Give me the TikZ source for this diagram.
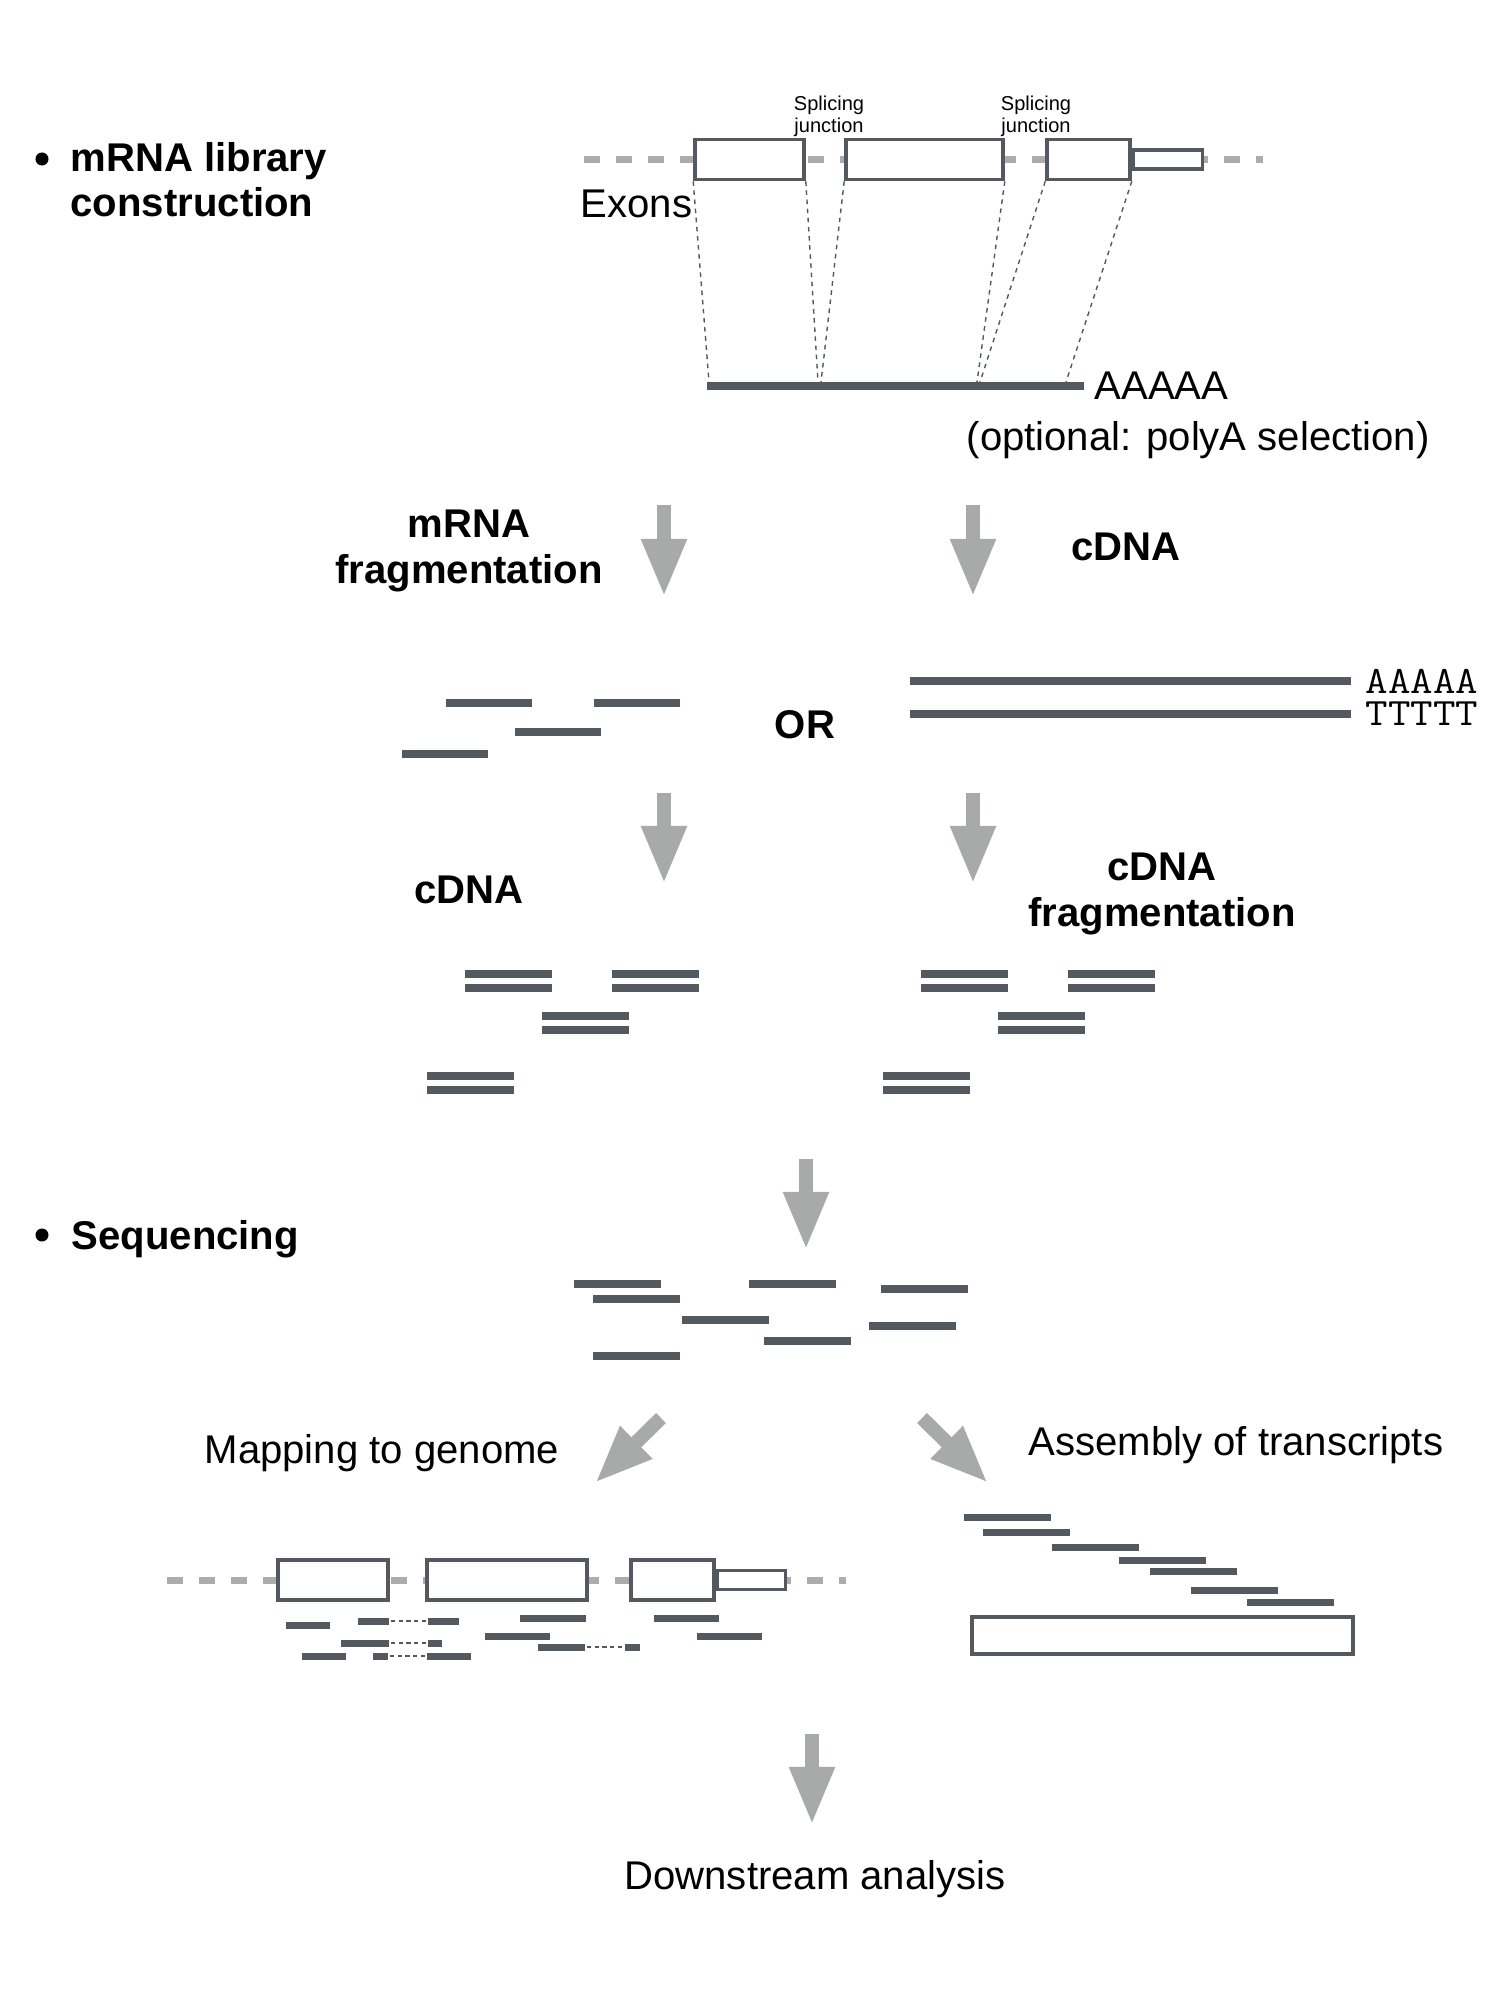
\documentclass[tikz,border=0pt]{standalone}
\usepackage{fontspec}
\setmainfont{Liberation Sans}
\usetikzlibrary{arrows.meta,positioning}

\definecolor{bargray}{RGB}{84,89,95}
\definecolor{arrowgray}{RGB}{168,170,169}
\definecolor{introngray}{RGB}{172,172,172}

\begin{document}
\begin{tikzpicture}[x=0.01cm,y=-0.01cm,
    exon/.style={rectangle,draw=bargray,line width=1pt,fill=white,inner sep=0pt,minimum height=0.40cm},
    utr/.style={exon,minimum height=0.19cm},
    intron/.style={draw=introngray,line width=2pt,dash pattern=on 4.55pt off 4.55pt},
    read/.style={draw=bargray,line width=2pt},
    junction/.style={draw=bargray,line width=0.4pt,dash pattern=on 1.3pt off 1.3pt},
    splicegap/.style={draw=bargray,line width=0.6pt,dash pattern=on 1.2pt off 1pt},
    blockarrow/.style={draw=arrowgray,line width=4pt,-{Triangle[width=11.9pt,length=16.5pt]}},
    txt/.style={inner sep=0pt,font=\fontsize{11.4pt}{12.8pt}\selectfont},
    head/.style={inner sep=0pt,font=\fontsize{11.4pt}{12.8pt}\selectfont\bfseries},
    smalltxt/.style={inner sep=0pt,align=center,font=\fontsize{5.7pt}{6.5pt}\selectfont},
    mono/.style={inner sep=0pt,font=\fontsize{11pt}{13pt}\selectfont\ttfamily},
    bulletdot/.style={circle,fill=black,inner sep=0pt,minimum size=0.13cm}]

  \path[use as bounding box,fill=white] (0,0) rectangle (1500,2000);

  % mRNA library construction
  \node[bulletdot] (b1) at (42,159) {};
  \node[head,anchor=base west,align=left] (lib) at (70,217) {mRNA library\\construction};

  % gene with exons
  \coordinate (gL) at (584,159.5);
  \coordinate (gR) at (1263,159.5);
  \draw[intron] (gL) -- (gR);
  \node[exon,minimum width=1.09cm] (e1) at (749.5,159.5) {};
  \node[exon,minimum width=1.57cm] (e2) at (924.5,159.5) {};
  \node[exon,minimum width=0.83cm] (e3) at (1088.5,159.5) {};
  \node[utr,minimum width=0.69cm,anchor=west] (u1) at (e3.east) {};
  \node[smalltxt,anchor=base] (sj1) at (829,133) {Splicing\\junction};
  \node[smalltxt,anchor=base] (sj2) at (1036,133) {Splicing\\junction};
  \node[txt,anchor=base west] (exons) at (580,218) {Exons};

  % spliced mRNA
  \coordinate (mL) at (707,386);
  \coordinate (mR) at (1084,386);
  \draw[read] (mL) -- (mR);
  \coordinate (j1) at (709,382);
  \coordinate (j2) at (818,382);
  \coordinate (j3) at (821,382);
  \coordinate (j4) at (977,382);
  \coordinate (j5) at (980,382);
  \coordinate (j6) at (1066,382);
  \draw[junction] (e1.south west) -- (j1) (e1.south east) -- (j2)
                  (e2.south west) -- (j3) (e2.south east) -- (j4)
                  (e3.south west) -- (j5) (e3.south east) -- (j6);
  \node[txt] (polyA) [right=0.1cm of mR] {AAAAA};
  \node[txt,anchor=base west] (sel) at (966,450) {(optional: polyA selection)};

  % first step
  \coordinate (a1) at (664,505);
  \coordinate (a1e) at (664,597);
  \coordinate (a2) at (973,505);
  \coordinate (a2e) at (973,597);
  \draw[blockarrow] (a1) -- (a1e);
  \draw[blockarrow] (a2) -- (a2e);
  \node[head,anchor=base,align=center] (frag) at (469,583) {mRNA\\fragmentation};
  \node[head,anchor=base] (cdna1) at (1126,560) {cDNA};
  \node[head,anchor=base] (or) at (805,738) {OR};

  % RNA fragments
  \draw[read] (446,703) -- ++(86,0) (594,703) -- ++(86,0)
              (515,732) -- ++(86,0) (402,754) -- ++(86,0);

  % full length cDNA
  \coordinate (s1L) at (910,681);
  \coordinate (s1R) at (1351,681);
  \coordinate (s2L) at (910,714);
  \coordinate (s2R) at (1351,714);
  \draw[read] (s1L) -- (s1R);
  \draw[read] (s2L) -- (s2R);
  \node[mono] (pA) [right=0.14cm of s1R] {\scalebox{1.13}[1]{AAAAA}};
  \node[mono] (pT) [right=0.14cm of s2R] {\scalebox{1.13}[1]{TTTTT}};

  % second step
  \coordinate (a3) at (664,793);
  \coordinate (a3e) at (664,884);
  \coordinate (a4) at (973,793);
  \coordinate (a4e) at (973,884);
  \draw[blockarrow] (a3) -- (a3e);
  \draw[blockarrow] (a4) -- (a4e);
  \node[head,anchor=base] (cdna2) at (469,903) {cDNA};
  \node[head,anchor=base,align=center] (cfrag) at (1162,926) {cDNA\\fragmentation};

  % double stranded fragments
  \draw[read] (465,974) -- ++(87,0) (465,988) -- ++(87,0)
              (612,974) -- ++(87,0) (612,988) -- ++(87,0)
              (542,1016) -- ++(87,0) (542,1030) -- ++(87,0)
              (427,1076) -- ++(87,0) (427,1090) -- ++(87,0);
  \draw[read] (921,974) -- ++(87,0) (921,988) -- ++(87,0)
              (1068,974) -- ++(87,0) (1068,988) -- ++(87,0)
              (998,1016) -- ++(87,0) (998,1030) -- ++(87,0)
              (883,1076) -- ++(87,0) (883,1090) -- ++(87,0);

  % Sequencing
  \coordinate (a5) at (806,1159);
  \coordinate (a5e) at (806,1250);
  \draw[blockarrow] (a5) -- (a5e);
  \node[bulletdot] (b2) at (42,1235) {};
  \node[head,anchor=base west] (seq) at (71,1249) {Sequencing};
  \draw[read] (574,1284) -- ++(87,0) (593,1299) -- ++(87,0)
              (749,1284) -- ++(87,0) (881,1289) -- ++(87,0)
              (682,1320) -- ++(87,0) (869,1326) -- ++(87,0)
              (764,1341) -- ++(87,0) (593,1356) -- ++(87,0);

  \coordinate (a6) at (661,1418);
  \coordinate (a6e) at (595,1483);
  \coordinate (a7) at (922,1418);
  \coordinate (a7e) at (988,1483);
  \draw[blockarrow] (a6) -- (a6e);
  \draw[blockarrow] (a7) -- (a7e);
  \node[txt,anchor=base west] (map) at (204,1463) {Mapping to genome};
  \node[txt,anchor=base west] (asm) at (1028,1455) {Assembly of transcripts};

  % reads mapped to the genome
  \coordinate (hL) at (167,1580);
  \coordinate (hR) at (846,1580);
  \draw[intron] (hL) -- (hR);
  \node[exon,minimum width=1.10cm] (f1) at (333,1580) {};
  \node[exon,minimum width=1.60cm] (f2) at (507,1580) {};
  \node[exon,minimum width=0.83cm] (f3) at (672.5,1580) {};
  \node[utr,minimum width=0.68cm,anchor=west] (u2) at (f3.east) {};
  \draw[read] (358,1621) -- (389,1621) (428,1621) -- (459,1621)
              (520,1618) -- (586,1618) (654,1618) -- (719,1618)
              (286,1625) -- (330,1625)
              (485,1636) -- (550,1636) (697,1636) -- (762,1636)
              (341,1643) -- (389,1643) (428,1643) -- (442,1643)
              (538,1647) -- (585,1647) (625,1647) -- (640,1647)
              (302,1656) -- (346,1656)
              (373,1656) -- (388,1656) (427,1656) -- (471,1656);
  \draw[splicegap] (391,1621) -- (426,1621) (391,1643) -- (426,1643)
                   (587,1647) -- (623,1647) (390,1656) -- (425,1656);

  % assembled transcript
  \draw[read] (964,1517) -- ++(87,0) (983,1532) -- ++(87,0)
              (1052,1547) -- ++(87,0) (1119,1560) -- ++(87,0)
              (1150,1571) -- ++(87,0) (1191,1590) -- ++(87,0)
              (1247,1602) -- ++(87,0);
  \node[exon,minimum width=3.81cm,minimum height=0.37cm] (tr) at (1162.5,1635.5) {};

  % Downstream
  \coordinate (a8) at (812,1734);
  \coordinate (a8e) at (812,1825);
  \draw[blockarrow] (a8) -- (a8e);
  \node[txt,anchor=base] (down) at (815,1889) {Downstream analysis};
\end{tikzpicture}
\end{document}
